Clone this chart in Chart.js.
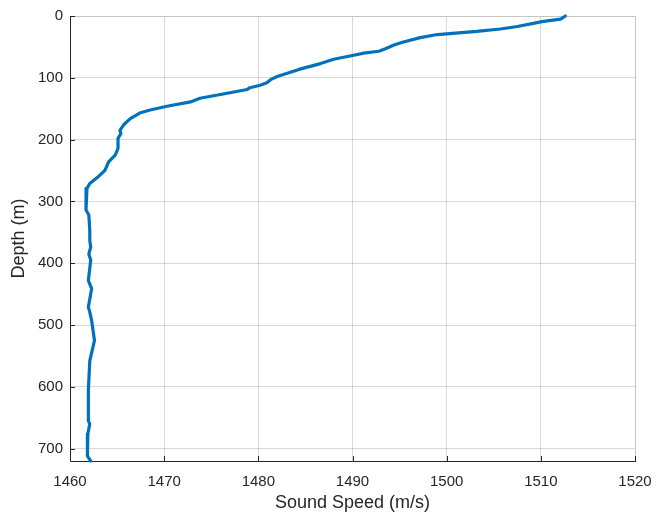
<!DOCTYPE html>
<html>
<head>
<meta charset="utf-8">
<script src="https://cdn.jsdelivr.net/npm/chart.js@4"></script>
<style>
html,body{margin:0;padding:0;background:#fff;}
#wrap{width:656px;height:514px;}
</style>
</head>
<body>
<div id="wrap"><canvas id="c" width="656" height="514"></canvas></div>
<script>
const depth = [0,5,9,12,17,21,25,29,30,35,42,47,53,57,60,64,70,77,86,98,103,108,112,116,119,125,133,139,146,152,157,166,176,185,190,198,214,225,236,250,260,271,279,298,314,322,347,363,374,385,395,428,441,471,479,493,525,558,606,655,660,676,712,720];
const speed = [1512.6,1512.1,1510.1,1509.2,1507.5,1505.7,1503.2,1500.0,1499.0,1497.2,1495.4,1494.4,1493.5,1492.8,1491.2,1490.0,1488.0,1486.6,1484.4,1482.0,1481.3,1480.9,1480.2,1479.1,1478.8,1476.7,1473.8,1472.8,1470.3,1468.5,1467.4,1466.4,1465.7,1465.3,1465.4,1465.1,1465.1,1464.8,1464.1,1463.7,1463.0,1462.1,1461.8,1461.7,1461.7,1462.0,1462.1,1462.1,1462.2,1462.0,1462.2,1461.95,1462.3,1461.95,1462.1,1462.3,1462.6,1462.1,1461.95,1461.95,1462.1,1461.9,1461.85,1462.2];
const xTicks = [1460,1470,1480,1490,1500,1510,1520];
const yTicks = [0,100,200,300,400,500,600,700];

const points = depth.map((d,i)=>({x:speed[i], y:d}));
const axisColor = '#262626';
const FONT = '"Liberation Sans", Arial, Helvetica, sans-serif';

const boxPlugin = {
  id:'box',
  beforeDatasetsDraw(chart){
    const {ctx, chartArea:a, scales} = chart;
    ctx.save();
    ctx.strokeStyle = '#c4c4c4';
    ctx.lineWidth = 1;
    ctx.beginPath();
    ctx.moveTo(a.left, a.top+0.5); ctx.lineTo(a.right+0.5, a.top+0.5);
    ctx.lineTo(a.right+0.5, a.bottom);
    ctx.stroke();
    ctx.strokeStyle = axisColor;
    ctx.beginPath();
    xTicks.forEach(v=>{
      const px = Math.round(scales.x.getPixelForValue(v))+0.5;
      ctx.moveTo(px, a.bottom); ctx.lineTo(px, a.bottom-5);
    });
    yTicks.forEach(v=>{
      const py = Math.round(scales.y.getPixelForValue(v))+0.5;
      ctx.moveTo(a.left, py); ctx.lineTo(a.left+5, py);
    });
    ctx.stroke();
    ctx.beginPath();
    ctx.moveTo(a.left+0.5, a.top); ctx.lineTo(a.left+0.5, a.bottom+0.5); ctx.lineTo(a.right+1, a.bottom+0.5);
    ctx.stroke();
    ctx.restore();
  }
};

new Chart(document.getElementById('c'), {
  type:'scatter',
  data:{datasets:[{
    data:points,
    showLine:true,
    borderColor:'#0072BD',
    backgroundColor:'#0072BD',
    borderWidth:3.2,
    borderJoinStyle:'round',
    borderCapStyle:'round',
    pointRadius:0,
    tension:0,
    clip:false
  }]},
  options:{
    responsive:false,
    animation:false,
    devicePixelRatio:1,
    layout:{padding:{left:8,right:21,top:16,bottom:0}},
    plugins:{legend:{display:false},tooltip:{enabled:false}},
    scales:{
      x:{
        type:'linear', min:1460, max:1520,
        afterBuildTicks(s){ s.ticks = xTicks.map(v=>({value:v})); },
        afterFit(s){ s.height = 53; s.paddingLeft = 0; s.paddingRight = 0; },
        grid:{color:'rgba(0,0,0,0.15)', drawTicks:false, lineWidth:1},
        border:{display:false},
        ticks:{color:axisColor, font:{family:FONT,size:15}, padding:12, maxRotation:0, callback:v=>String(v)},
        title:{display:true, text:'Sound Speed (m/s)', color:axisColor, font:{family:FONT,size:18}, padding:{top:1,bottom:0}}
      },
      y:{
        type:'linear', min:0, max:720, reverse:true,
        afterBuildTicks(s){ s.ticks = yTicks.map(v=>({value:v})); },
        afterFit(s){ s.width = 62; s.paddingTop = 0; s.paddingBottom = 0; },
        grid:{color:'rgba(0,0,0,0.15)', drawTicks:false, lineWidth:1},
        border:{display:false},
        ticks:{color:axisColor, font:{family:FONT,size:15}, padding:7, callback:v=>String(v)},
        title:{display:true, text:'Depth (m)', color:axisColor, font:{family:FONT,size:18}, padding:{top:0,bottom:2}}
      }
    }
  },
  plugins:[boxPlugin]
});
</script>
</body>
</html>
